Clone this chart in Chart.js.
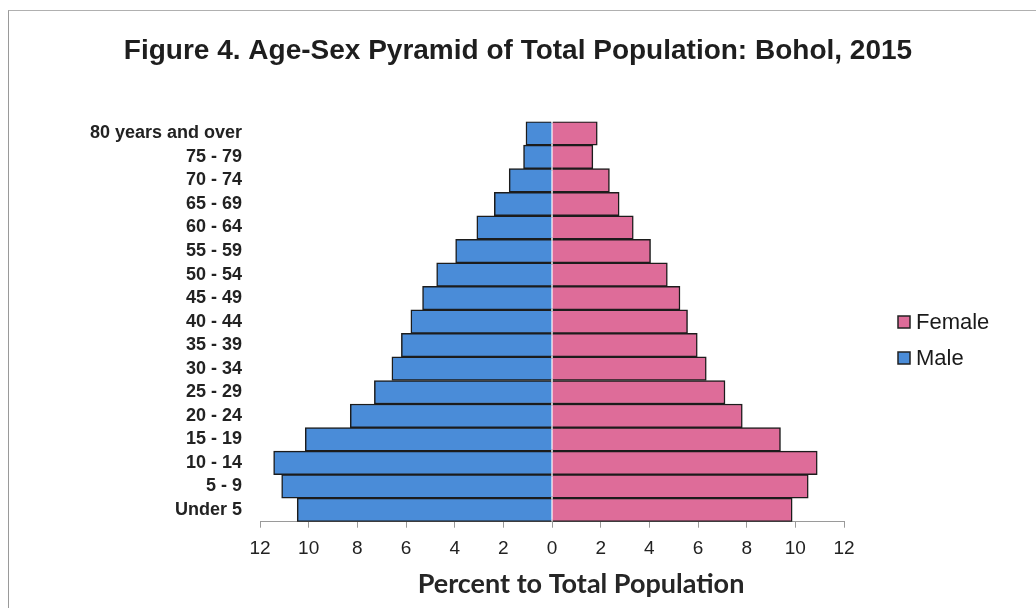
<!DOCTYPE html>
<html>
<head>
<meta charset="utf-8">
<title>Age-Sex Pyramid: Bohol, 2015</title>
<script src="https://cdn.jsdelivr.net/npm/chart.js@4/dist/chart.umd.min.js"></script>
<style>
  html, body { margin: 0; padding: 0; background: #ffffff; }
  #wrap { position: relative; width: 1036px; height: 608px; }
  #frame { position: absolute; left: 8px; top: 10px; right: -2px; bottom: -2px;
           border-left: 1px solid #9a9a9a; border-top: 1px solid #b0b0b0; pointer-events: none; }
  canvas { position: absolute; left: 0; top: 0; }
</style>
</head>
<body>
<div id="wrap">
  <canvas id="pyramid" width="1036" height="608"></canvas>
  <div id="frame"></div>
</div>
<script>
// Age groups, oldest at the top
const ageGroups = [
  "80 years and over", "75 - 79", "70 - 74", "65 - 69", "60 - 64", "55 - 59",
  "50 - 54", "45 - 49", "40 - 44", "35 - 39", "30 - 34", "25 - 29",
  "20 - 24", "15 - 19", "10 - 14", "5 - 9", "Under 5"
];

// Percent of total population, by sex
const malePercent = [
  1.07, 1.17, 1.76, 2.37, 3.09, 3.96, 4.74, 5.32, 5.80,
  6.19, 6.58, 7.30, 8.29, 10.14, 11.44, 11.11, 10.47
];
const femalePercent = [
  1.86, 1.68, 2.36, 2.76, 3.34, 4.05, 4.74, 5.26, 5.57,
  5.97, 6.34, 7.11, 7.82, 9.39, 10.90, 10.53, 9.87
];

// Axis ticks (magnitudes shown on both sides of zero)
const axisMin = -12;
const axisMax = 12;
const axisStep = 2;

const titleText = "Figure 4. Age-Sex Pyramid of Total Population: Bohol, 2015";
const axisTitleText = "Percent to Total Population";

// Reserved widths on both sides of the plot
const leftAxisWidth = 260;
const rightReserve = 192;

// Legend to the right of the plot (Female first) and the x-axis caption
const sideLegend = {
  id: "sideLegend",
  afterDraw(chart) {
    const ctx = chart.ctx;
    const order = [1, 0];
    const x0 = 898, y0 = 322, gap = 36, box = 12;
    ctx.save();
    ctx.font = "22px 'Liberation Sans', Arial, sans-serif";
    ctx.textBaseline = "middle";
    ctx.textAlign = "left";
    order.forEach((di, i) => {
      const ds = chart.data.datasets[di];
      const y = y0 + i * gap;
      ctx.fillStyle = ds.backgroundColor;
      ctx.fillRect(x0, y - box / 2, box, box);
      ctx.lineWidth = 1.5;
      ctx.strokeStyle = "#222";
      ctx.strokeRect(x0, y - box / 2, box, box);
      ctx.fillStyle = "#1a1a1a";
      ctx.fillText(ds.label, x0 + box + 6, y + 1);
    });

    // caption under the x axis
    ctx.font = "bold 27px Lato, 'Open Sans', sans-serif";
    ctx.textAlign = "center";
    ctx.fillStyle = "#262626";
    ctx.fillText(axisTitleText, 581, 584);
    ctx.restore();
  }
};

new Chart(document.getElementById("pyramid"), {
  type: "bar",
  data: {
    labels: ageGroups,
    datasets: [
      {
        label: "Male",
        data: malePercent.map(v => -v),
        backgroundColor: "#4a8cd8",
        borderColor: "#1c1c1c",
        borderWidth: 1.5,
        grouped: false,
        barPercentage: 1,
        categoryPercentage: 1
      },
      {
        label: "Female",
        data: femalePercent,
        backgroundColor: "#de6c99",
        borderColor: "#1c1c1c",
        borderWidth: 1.5,
        grouped: false,
        barPercentage: 1,
        categoryPercentage: 1
      }
    ]
  },
  options: {
    indexAxis: "y",
    responsive: false,
    animation: false,
    layout: { padding: 0 },
    plugins: {
      legend: { display: false },
      tooltip: { enabled: false },
      title: {
        display: true,
        text: titleText,
        color: "#1e1e1e",
        font: { family: "'Liberation Sans', Arial, sans-serif", size: 28, weight: "bold", lineHeight: 1.2 },
        padding: { top: 34, bottom: 54 }
      }
    },
    scales: {
      x: {
        min: axisMin,
        max: axisMax,
        ticks: {
          stepSize: axisStep,
          color: "#222",
          padding: 10,
          maxRotation: 0,
          font: { family: "'Liberation Sans', Arial, sans-serif", size: 19 },
          callback: v => Math.abs(v)
        },
        grid: { display: true, drawOnChartArea: false, drawTicks: true, tickLength: 6, color: "#9a9a9a" },
        border: { display: true, color: "#9a9a9a", width: 1 },
        afterFit(scale) { scale.height = 86.3; }
      },
      y: {
        ticks: {
          color: "#222",
          padding: 18,
          autoSkip: false,
          font: { family: "'Liberation Sans', Arial, sans-serif", size: 18, weight: "bold" }
        },
        grid: { display: false, drawTicks: false },
        border: { display: false },
        afterFit(scale) { scale.width = leftAxisWidth; }
      },
      // empty right-hand axis that keeps room for the legend
      yRight: {
        type: "category",
        position: "right",
        display: true,
        ticks: { display: false },
        grid: { display: false, drawTicks: false },
        border: { display: false },
        afterFit(scale) { scale.width = rightReserve; }
      }
    }
  },
  plugins: [sideLegend]
});
</script>
</body>
</html>
